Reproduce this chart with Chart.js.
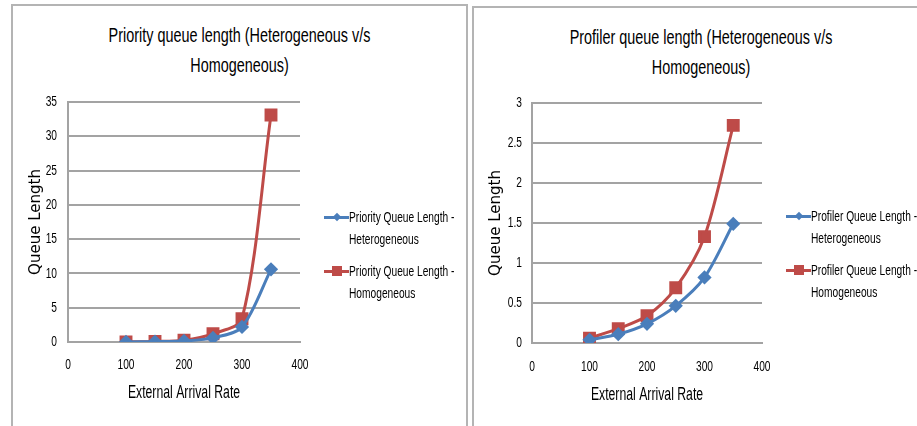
<!DOCTYPE html>
<html>
<head>
<meta charset="utf-8">
<script src="https://cdn.jsdelivr.net/npm/chart.js@4.4.0/dist/chart.umd.min.js"></script>
<style>
  html, body { margin: 0; padding: 0; background: #fff; }
  body { width: 917px; height: 426px; position: relative; overflow: hidden;
         font-family: "Liberation Sans", Arial, sans-serif; }
  .panel { position: absolute; border: 2px solid #b4b4b4; border-bottom: none; box-sizing: border-box; }
  .title { position: absolute; text-align: center; font-size: 21px; line-height: 30px; color: #000;
           transform: scaleX(0.686); transform-origin: center top; }
  .legend { position: absolute; }
  .item { display: flex; margin-bottom: 10px; }
  .swatch { position: relative; width: 25px; height: 22px; flex: none; }
  .swatch .ln { position: absolute; left: 0; right: 0; top: 10px; height: 3px; }
  .swatch .mk { position: absolute; }
  .txt { font-size: 15px; line-height: 22px; color: #000; white-space: nowrap;
         transform: scaleX(0.68); transform-origin: left center; }
  canvas { position: absolute; top: 0; }
</style>
</head>
<body>
<div class="panel" style="left:11px; top:4px; width:457px; height:430px;"></div>
<div class="panel" style="left:472px; top:6px; width:470px; height:430px;"></div>

<div class="title" style="left:12px; top:20px; width:455px;">Priority queue length (Heterogeneous v/s<br>Homogeneous)</div>
<div class="title" style="left:473px; top:22px; width:456px;">Profiler queue length (Heterogeneous v/s<br>Homogeneous)</div>

<canvas id="chartPriority" width="467" height="426" style="left:0;"></canvas>
<canvas id="chartProfiler" width="450" height="426" style="left:467px;"></canvas>

<div class="legend" id="legendPriority" style="left:324px; top:206px;"></div>
<div class="legend" id="legendProfiler" style="left:786px; top:205px;"></div>

<script>
const arrivalRates = [100, 150, 200, 250, 300, 350];

const priorityHetero = [0.01, 0.05, 0.15, 0.6, 2.2, 10.6];
const priorityHomo = [0.02, 0.08, 0.25, 1.2, 3.4, 33.1];

const profilerHetero = [0.04, 0.11, 0.24, 0.465, 0.82, 1.49];
const profilerHomo = [0.06, 0.18, 0.34, 0.69, 1.33, 2.72];

const priorityNames = ['Priority Queue Length - Heterogeneous', 'Priority Queue Length - Homogeneous'];
const profilerNames = ['Profiler Queue Length - Heterogeneous', 'Profiler Queue Length - Homogeneous'];

const xTicks = [0, 100, 200, 300, 400];
const priorityYMax = 35, priorityYStep = 5;
const profilerYMax = 3, profilerYStep = 0.5;

const BLUE = '#4a7ebb';
const RED = '#be4b48';
const GRID = '#a3a3a3';
const SANS = '"Liberation Sans", Arial, sans-serif';
const SQUEEZE = 0.68;

// the reference text is horizontally squashed, so tick labels and the x title are drawn here
function drawSquashed(ctx, text, x, y, align) {
  ctx.save();
  ctx.translate(x, y);
  ctx.scale(SQUEEZE, 1);
  ctx.textAlign = align;
  ctx.fillText(text, 0, 0);
  ctx.restore();
}

const squashedLabels = {
  id: 'squashedLabels',
  afterDraw(chart, args, opts) {
    const ctx = chart.ctx;
    const xs = chart.scales.x, ys = chart.scales.y;
    const area = chart.chartArea;
    ctx.save();
    ctx.fillStyle = '#000';
    ctx.textBaseline = 'middle';
    ctx.font = '15px ' + SANS;
    xs.ticks.forEach(t => {
      drawSquashed(ctx, t.label, xs.getPixelForValue(t.value), area.bottom + opts.xTickOffset, 'center');
    });
    ys.ticks.forEach(t => {
      drawSquashed(ctx, t.label, area.left - opts.yTickOffset, ys.getPixelForValue(t.value), 'right');
    });
    ctx.font = '18px ' + SANS;
    drawSquashed(ctx, xs.options.title.text, (area.left + area.right) / 2, opts.xTitleY, 'center');
    ctx.restore();
  }
};

function points(ys) {
  return arrivalRates.map((x, i) => ({ x: x, y: ys[i] }));
}

function makeDatasets(names, hetero, homo) {
  return [
    { label: names[0], data: points(hetero), borderColor: BLUE, backgroundColor: BLUE,
      borderWidth: 3, pointStyle: 'rectRot', pointRadius: 5, tension: 0.3 },
    { label: names[1], data: points(homo), borderColor: RED, backgroundColor: RED,
      borderWidth: 3, pointStyle: 'rect', pointRadius: 7, tension: 0.3 }
  ];
}

function makeChart(id, datasets, yMax, yStep, geo) {
  return new Chart(document.getElementById(id), {
    type: 'line',
    data: { datasets: datasets },
    plugins: [squashedLabels],
    options: {
      responsive: false,
      animation: false,
      layout: { padding: { top: geo.top, right: geo.right, bottom: 0, left: 0 } },
      plugins: {
        legend: { display: false }, title: { display: false }, tooltip: { enabled: false },
        squashedLabels: { xTickOffset: geo.xTickOffset, yTickOffset: geo.yTickOffset, xTitleY: geo.xTitleY }
      },
      scales: {
        x: {
          type: 'linear', min: 0, max: 400,
          afterBuildTicks: (s) => { s.ticks = xTicks.map(v => ({ value: v })); },
          ticks: { display: false },
          grid: { display: false, drawTicks: false },
          border: { display: true, color: GRID, width: 2 },
          title: { display: false, text: 'External Arrival Rate' },
          afterFit: (s) => { s.height = geo.xHeight; }
        },
        y: {
          min: 0, max: yMax,
          ticks: { display: false, stepSize: yStep, callback: (v) => String(+v.toFixed(2)) },
          grid: { color: GRID, lineWidth: 2, drawTicks: false },
          border: { display: true, color: GRID, width: 2 },
          title: { display: true, text: 'Queue Length', color: '#000',
                   font: { family: '"DejaVu Sans", sans-serif', size: 15 }, padding: { top: geo.yTitlePad, bottom: 0 } },
          afterFit: (s) => { s.width = geo.yWidth; }
        }
      }
    }
  });
}

function buildLegend(id, chart) {
  const box = document.getElementById(id);
  chart.data.datasets.forEach(ds => {
    const item = document.createElement('div');
    item.className = 'item';
    const sw = document.createElement('div');
    sw.className = 'swatch';
    const ln = document.createElement('div');
    ln.className = 'ln';
    ln.style.background = ds.borderColor;
    const mk = document.createElement('div');
    mk.className = 'mk';
    mk.style.background = ds.borderColor;
    if (ds.pointStyle === 'rect') {
      mk.style.width = '10px'; mk.style.height = '10px'; mk.style.left = '8px'; mk.style.top = '6px';
    } else {
      mk.style.width = '6px'; mk.style.height = '6px'; mk.style.left = '10px'; mk.style.top = '8px';
      mk.style.transform = 'rotate(45deg)';
    }
    sw.appendChild(ln);
    sw.appendChild(mk);
    const txt = document.createElement('div');
    txt.className = 'txt';
    const parts = ds.label.split(' - ');
    txt.innerHTML = parts[0] + ' -<br>' + parts[1];
    item.appendChild(sw);
    item.appendChild(txt);
    box.appendChild(item);
  });
}

const priorityChart = makeChart('chartPriority', makeDatasets(priorityNames, priorityHetero, priorityHomo),
  priorityYMax, priorityYStep,
  { top: 102, right: 167, xHeight: 84, yWidth: 68, xTickOffset: 23, yTickOffset: 11, xTitleY: 393, yTitlePad: 27 });

const profilerChart = makeChart('chartProfiler', makeDatasets(profilerNames, profilerHetero, profilerHomo),
  profilerYMax, profilerYStep,
  { top: 103, right: 155, xHeight: 83, yWidth: 65, xTickOffset: 24, yTickOffset: 10, xTitleY: 395, yTitlePad: 20 });

buildLegend('legendPriority', priorityChart);
buildLegend('legendProfiler', profilerChart);
</script>
</body>
</html>
